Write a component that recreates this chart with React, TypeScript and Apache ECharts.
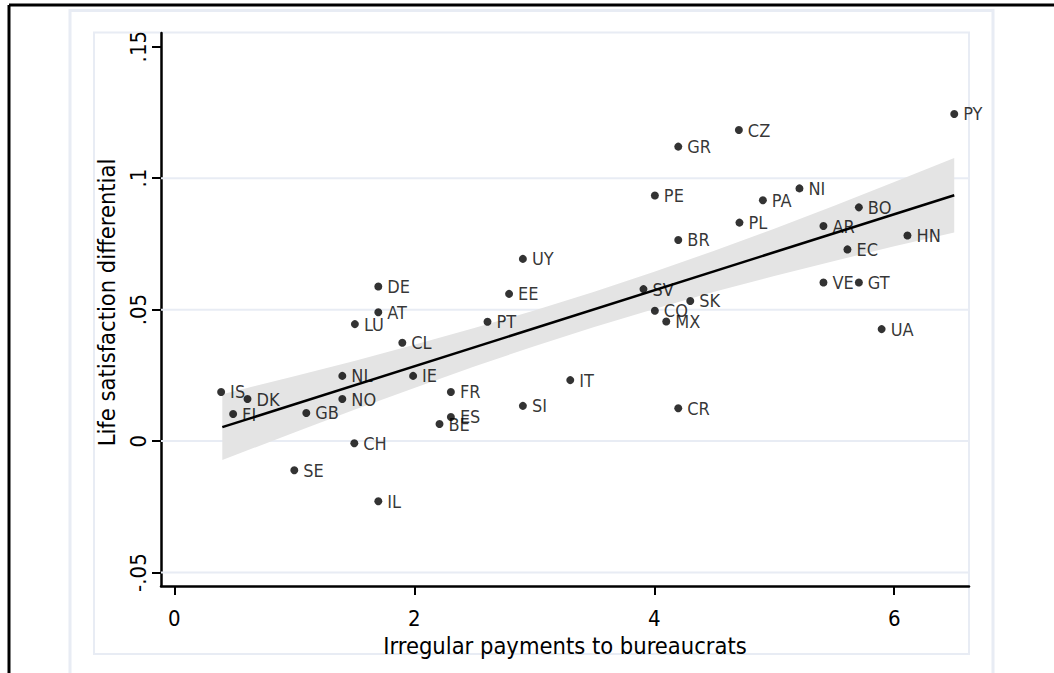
import React, { useEffect, useRef } from "react";
import * as echarts from "echarts";

const countries = ["PY","CZ","GR","PE","NI","PA","PL","BO","AR","HN","EC","BR","VE","GT","UA","SV","SK","CO","MX","CR","IT","SI","UY","EE","PT","FR","ES","BE","IE","CL","DE","AT","LU","NL","NO","CH","IL","SE","GB","IS","DK","FI"];
const xValues = [6.50,4.705,4.20,4.005,5.21,4.905,4.71,5.705,5.41,6.11,5.61,4.20,5.41,5.705,5.895,3.91,4.30,4.005,4.10,4.20,3.30,2.905,2.905,2.79,2.61,2.305,2.305,2.21,1.99,1.90,1.70,1.70,1.505,1.40,1.40,1.50,1.70,1.00,1.10,0.39,0.61,0.49];
const yValues = [0.1244,0.1183,0.1120,0.0934,0.0961,0.0916,0.0831,0.0889,0.0818,0.0782,0.0729,0.0765,0.0603,0.0603,0.0426,0.0578,0.0533,0.0496,0.0455,0.0125,0.0232,0.0134,0.0693,0.0560,0.0454,0.0187,0.0092,0.0065,0.0248,0.0374,0.0588,0.0490,0.0445,0.0248,0.0160,-0.0008,-0.0229,-0.0111,0.0107,0.0187,0.0160,0.0103];

const fitX = [0.4, 6.5];
const fitY = [0.0053, 0.0935];

const bandX = [0.4, 1, 1.5, 2, 2.5, 3, 3.5, 4, 4.5, 5, 5.5, 6, 6.5];
const bandLow = [-0.0072, 0.0033, 0.0119, 0.0202, 0.0284, 0.0361, 0.0434, 0.0502, 0.0568, 0.0628, 0.0685, 0.0741, 0.0793];
const bandHigh = [0.0178, 0.0247, 0.0305, 0.0366, 0.0430, 0.0497, 0.0568, 0.0644, 0.0724, 0.0808, 0.0895, 0.0985, 0.1077];

const xTicks = [0, 2, 4, 6];
const yTicks = [-0.05, 0, 0.05, 0.1, 0.15];
const yTickLabels = ["-.05", "0", ".05", ".1", ".15"];
const gridValues = [-0.05, 0, 0.05, 0.1];

const xTitle = "Irregular payments to bureaucrats";
const yTitle = "Life satisfaction differential";

const FONT = "'DejaVu Sans Condensed', 'Liberation Sans Narrow', 'DejaVu Sans', sans-serif";
const FRAME = "#e8ecf4";

export default function App() {
  const ref = useRef<HTMLDivElement>(null);
  useEffect(() => {
    if (!ref.current) return;
    const chart = echarts.init(ref.current, null, { renderer: "svg" });
    const pts = xValues.map((x, i) => [x, yValues[i]]);
    const option: any = {
      animation: false,
      backgroundColor: "#ffffff",
      textStyle: { fontFamily: FONT },
      grid: { left: 161, top: 33, right: 85, bottom: 87 },
      xAxis: {
        type: "value",
        min: -0.111,
        max: 6.623,
        name: xTitle,
        nameLocation: "middle",
        nameGap: 42,
        nameTextStyle: { fontSize: 23.5, color: "#000", fontFamily: FONT },
        axisLine: { show: true, onZero: false, lineStyle: { color: "#000", width: 2.5 } },
        axisTick: { show: true, length: 9, customValues: xTicks, lineStyle: { color: "#000", width: 2 } },
        axisLabel: { customValues: xTicks, margin: 21, fontSize: 22, color: "#000", fontFamily: FONT },
        splitLine: { show: false },
      },
      yAxis: {
        type: "value",
        min: -0.0551,
        max: 0.1552,
        name: yTitle,
        nameLocation: "middle",
        nameRotate: 90,
        nameGap: 27,
        nameTextStyle: { fontSize: 23.5, color: "#000", fontFamily: FONT, padding: [0, 0, 0, 14] },
        axisLine: { show: true, onZero: false, lineStyle: { color: "#000", width: 2.5 } },
        axisTick: { show: true, length: 9, customValues: yTicks, lineStyle: { color: "#000", width: 2 } },
        axisLabel: {
          customValues: yTicks,
          rotate: 90,
          margin: 12,
          fontSize: 22,
          color: "#000",
          fontFamily: FONT,
          formatter: (v: number) => {
            let best = 0;
            yTicks.forEach((t, i) => { if (Math.abs(t - v) < Math.abs(yTicks[best] - v)) best = i; });
            return yTickLabels[best];
          },
        },
        splitLine: { show: false },
      },
      graphic: [
        { type: "line", shape: { x1: 9, y1: 5, x2: 1054, y2: 5 }, style: { stroke: "#000", lineWidth: 3 }, z: 10 },
        { type: "line", shape: { x1: 9, y1: 5, x2: 9, y2: 673 }, style: { stroke: "#000", lineWidth: 3 }, z: 10 },
        { type: "rect", shape: { x: 70, y: 10.5, width: 923, height: 700 }, style: { fill: "none", stroke: FRAME, lineWidth: 3 }, z: -10 },
        { type: "rect", shape: { x: 94, y: 32.5, width: 875, height: 621.5 }, style: { fill: "none", stroke: FRAME, lineWidth: 2 }, z: -10 },
      ],
      series: [
        {
          type: "custom",
          z: 1,
          silent: true,
          clip: false,
          data: [[bandX[0], bandLow[0]]],
          renderItem: (params: any, api: any) => {
            const cs = params.coordSys;
            const children: any[] = [];
            gridValues.forEach((v) => {
              const y = api.coord([0, v])[1];
              children.push({ type: "line", shape: { x1: cs.x, y1: y, x2: cs.x + cs.width, y2: y }, style: { stroke: FRAME, lineWidth: 2 } });
            });
            const poly: number[][] = [];
            bandX.forEach((x, i) => poly.push(api.coord([x, bandHigh[i]])));
            for (let i = bandX.length - 1; i >= 0; i--) poly.push(api.coord([bandX[i], bandLow[i]]));
            children.push({ type: "polygon", shape: { points: poly }, style: { fill: "#e4e4e4", stroke: "none" } });
            return { type: "group", children };
          },
        },
        {
          type: "line",
          z: 3,
          data: fitX.map((x, i) => [x, fitY[i]]),
          symbol: "none",
          lineStyle: { color: "#000", width: 2.5 },
          silent: true,
        },
        {
          type: "scatter",
          z: 4,
          data: pts,
          symbol: "circle",
          symbolSize: 8,
          itemStyle: { color: "#000" },
          label: {
            show: true,
            position: "right",
            distance: 5,
            fontSize: 18,
            color: "#000",
            fontFamily: FONT,
            formatter: (p: any) => countries[p.dataIndex],
          },
          labelLayout: { hideOverlap: false },
        },
      ],
    };
    chart.setOption(option);
    return () => chart.dispose();
  }, []);
  return (
    <div
      ref={ref}
      style={{ position: "fixed", left: 0, top: 0, width: 1054, height: 673, background: "#fff" }}
    />
  );
}
